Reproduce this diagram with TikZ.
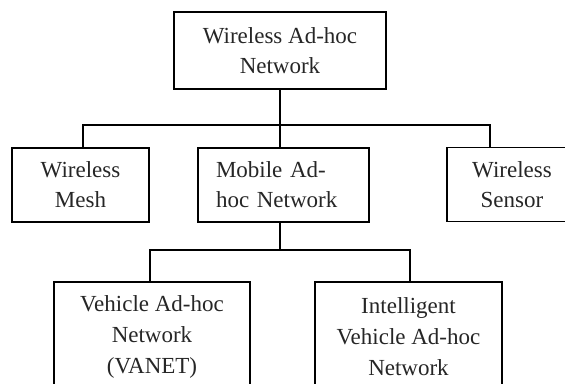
\documentclass[tikz,border=0pt]{standalone}
\usepackage{fontspec}
\setmainfont{Liberation Serif}
\usepackage{tikz}
\usetikzlibrary{positioning, calc}

\begin{document}
\begin{tikzpicture}[
    x=1pt, y=-1pt,
    block/.style={rectangle, draw, line width=1.3pt, inner sep=0pt, align=center, font=\fontsize{23}{30}\selectfont, text=black!85},
    link/.style={line width=1.3pt}
]
    \clip (0,0) rectangle (565,383);
    \fill[white] (0,0) rectangle (565,383);

    \node[block, minimum width=212pt, minimum height=77pt] (wan) at (280,50.5) {Wireless Ad-hoc\\Network};

    \node[block, minimum width=137pt, minimum height=74pt] (mesh) at (80.5,185) {Wireless\\Mesh};
    \node[block, minimum width=171pt, minimum height=74pt, text width=135pt, align=left] (manet) at (283.5,185) {Mobile Ad-\\hoc Network};
    \node[block, minimum width=130pt, minimum height=74pt] (sensor) at (512,184.5) {Wireless\\Sensor};

    \node[block, minimum width=196pt, minimum height=110pt, font=\fontsize{23}{31}\selectfont] (vanet) at (152,337) {Vehicle Ad-hoc\\Network\\(VANET)};
    \node[block, minimum width=187pt, minimum height=110pt, font=\fontsize{23}{31}\selectfont] (ivanet) at (408.5,337) {Intelligent\\Vehicle Ad-hoc\\Network};

    % first level
    \coordinate (bus1) at (280,125);
    \draw[link] (wan.south) -- (wan.south |- manet.north);
    \draw[link] ([xshift=2.5pt]mesh.north) |- (bus1) -| ([xshift=-22pt]sensor.north);

    % second level
    \coordinate (bus2) at (280,250);
    \draw[link] (manet.south -| bus2) -- (bus2);
    \draw[link] ([xshift=-2pt]vanet.north) |- (bus2) -| ([xshift=1.5pt]ivanet.north);
\end{tikzpicture}
\end{document}
